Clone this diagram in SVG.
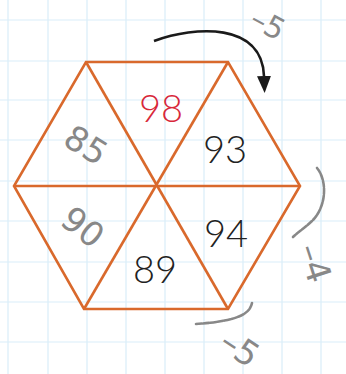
<svg xmlns="http://www.w3.org/2000/svg" width="346" height="374" viewBox="0 0 346 374">
<style>
.grid line{stroke:#d9edf9;stroke-width:1.2}
.hex{fill:none;stroke:#d9692c;stroke-width:2.6;stroke-linejoin:miter}
.num{font-family:Lato,"DejaVu Sans",sans-serif;font-weight:300;font-size:38px;text-anchor:middle;fill:#222}
.hand{font-family:"DejaVu Sans",sans-serif;font-size:34px;fill:#888;text-anchor:middle;dominant-baseline:central}
.handline{fill:none;stroke:#888;stroke-width:2.6;stroke-linecap:round;stroke-dasharray:6 1.2}
</style>
<defs>
<marker id="ah" markerWidth="17" markerHeight="14" refX="0" refY="0" orient="auto" markerUnits="userSpaceOnUse" viewBox="0 -7 17 14">
<path d="M0,-7 L17,0 L0,7 z" fill="#1a1a1a"/>
</marker>
</defs>
<rect width="346" height="374" fill="#ffffff"/>
<g class="grid">
<line x1="8" y1="0" x2="8" y2="374"/><line x1="48" y1="0" x2="48" y2="374"/><line x1="87" y1="0" x2="87" y2="374"/><line x1="126" y1="0" x2="126" y2="374"/><line x1="165" y1="0" x2="165" y2="374"/><line x1="204" y1="0" x2="204" y2="374"/><line x1="243" y1="0" x2="243" y2="374"/><line x1="282" y1="0" x2="282" y2="374"/><line x1="321" y1="0" x2="321" y2="374"/>
<line x1="0" y1="20" x2="346" y2="20"/><line x1="0" y1="61" x2="346" y2="61"/><line x1="0" y1="100" x2="346" y2="100"/><line x1="0" y1="140" x2="346" y2="140"/><line x1="0" y1="181" x2="346" y2="181"/><line x1="0" y1="221" x2="346" y2="221"/><line x1="0" y1="262" x2="346" y2="262"/><line x1="0" y1="302" x2="346" y2="302"/><line x1="0" y1="342" x2="346" y2="342"/>
</g>
<g id="hexagon">
<polygon class="hex" points="86,62 228,62 300,186 228,309 84,309 14,186"/>
<line class="hex" x1="14" y1="186" x2="300" y2="186"/>
<line class="hex" x1="86" y1="62" x2="228" y2="309"/>
<line class="hex" x1="228" y1="62" x2="84" y2="309"/>
</g>
<g id="numbers">
<text class="num" x="161" y="122" style="fill:#d8283a">98</text>
<text class="num" x="225" y="163">93</text>
<text class="num" x="226" y="247">94</text>
<text class="num" x="155" y="283">89</text>
</g>
<g id="handwritten">
<text class="hand" transform="translate(86,145) rotate(32)">85</text>
<text class="hand" transform="translate(83,227) rotate(38)">90</text>
<text class="hand" style="font-size:30px" transform="translate(268,24) rotate(28)">–5</text>
<text class="hand" transform="translate(315,263) rotate(72)">–4</text>
<text class="hand" transform="translate(240,348) rotate(34)">–5</text>
</g>
<g id="connectors">
<path d="M154,41 C195,26 262,22 264,76" fill="none" stroke="#1a1a1a" stroke-width="2.6" marker-end="url(#ah)"/>
<path class="handline" d="M317,168 C327,180 327,205 313,220 C305,228 298,232 293,237"/>
<path class="handline" d="M252,303 C250,313 240,321 196,324"/>
</g>
</svg>
